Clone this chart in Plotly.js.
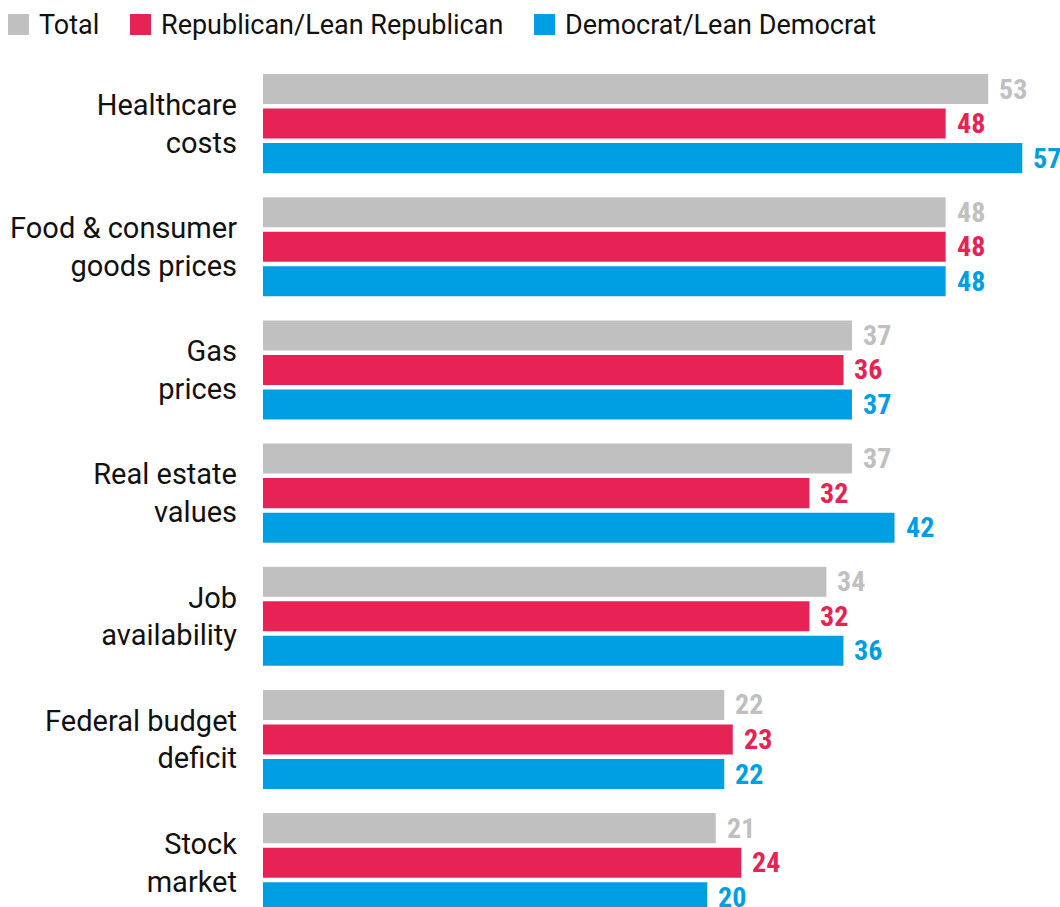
<!DOCTYPE html>
<html>
<head>
<meta charset="utf-8">
<script src="https://cdn.plot.ly/plotly-3.0.1.min.js"></script>
<style>
  html, body { margin: 0; padding: 0; background: #ffffff; }
  #chart { width: 1060px; height: 907px; }
</style>
</head>
<body>
<div id="chart"></div>
<script>
// ---- Data ----
var categories = [
  "Healthcare<br>costs",
  "Food & consumer<br>goods prices",
  "Gas<br>prices",
  "Real estate<br>values",
  "Job<br>availability",
  "Federal budget<br>deficit",
  "Stock<br>market"
];
var seriesNames = ["Total", "Republican/Lean Republican", "Democrat/Lean Democrat"];
var totalValues = [53, 48, 37, 37, 34, 22, 21];
var republicanValues = [48, 48, 36, 32, 32, 23, 24];
var democratValues = [57, 48, 37, 42, 36, 22, 20];
var seriesColors = ["#c0c0c0", "#e62354", "#009fe3"];

// ---- Layout constants (style) ----
var W = 1060, H = 907;
var M = { l: 263, r: 0, t: 62, b: 0 };
var BASE = -32.17;            // bars start at this axis value (truncated scale as in reference)
var XMAX = 61.43;
var BARGAP = 0.159, BARGROUPGAP = 0.13;
var LABEL_FONT = "Liberation Sans Narrow, Roboto Condensed, Arial Narrow, DejaVu Sans Condensed, Roboto, sans-serif";
var TEXT_FONT = "Roboto, Noto Sans, sans-serif";

var allValues = [totalValues, republicanValues, democratValues];

var traces = allValues.map(function (vals, i) {
  return {
    type: "bar",
    orientation: "h",
    name: seriesNames[i],
    y: categories,
    x: vals.map(function (v) { return v - BASE; }),
    base: BASE,
    marker: { color: seriesColors[i], line: { width: 0 } },
    hoverinfo: "skip",
    showlegend: false
  };
});

// value labels
var plotH = H - M.t - M.b;
var slotPx = (plotH / (6 + 0.36 + 0.5)) * (1 - BARGAP) / 3;
var annotations = [];
allValues.forEach(function (vals, i) {
  vals.forEach(function (v, j) {
    annotations.push({
      xref: "x", yref: "y",
      x: v, y: categories[j],
      xanchor: "left", yanchor: "middle",
      xshift: 9,
      yshift: (1 - i) * slotPx,
      text: "<b>" + v + "</b>",
      showarrow: false,
      font: { family: LABEL_FONT, size: 28, color: seriesColors[i] }
    });
  });
});

// custom legend (squares + text)
var plotW = W - M.l - M.r;
function px2paperX(px) { return (px - M.l) / plotW; }
function px2paperY(py) { return (H - M.b - py) / plotH; }
var legendSquareX = [8, 130, 534];
var shapes = [];
seriesNames.forEach(function (name, i) {
  shapes.push({
    type: "rect", xref: "paper", yref: "paper",
    x0: px2paperX(legendSquareX[i]), x1: px2paperX(legendSquareX[i] + 21),
    y0: px2paperY(35), y1: px2paperY(14),
    fillcolor: seriesColors[i], line: { width: 0 }
  });
  annotations.push({
    xref: "paper", yref: "paper",
    x: px2paperX(legendSquareX[i] + 29), y: px2paperY(24.5),
    xanchor: "left", yanchor: "middle",
    text: name, showarrow: false,
    font: { family: TEXT_FONT, size: 27, color: "#111111" }
  });
});

var layout = {
  width: W, height: H,
  margin: M,
  paper_bgcolor: "#ffffff",
  plot_bgcolor: "#ffffff",
  barmode: "group",
  bargap: BARGAP,
  bargroupgap: BARGROUPGAP,
  showlegend: false,
  xaxis: {
    range: [BASE, XMAX],
    showgrid: false, zeroline: false, showline: false,
    showticklabels: false, ticks: "", fixedrange: true
  },
  yaxis: {
    type: "category",
    categoryorder: "array",
    categoryarray: categories,
    range: [6.36, -0.5],
    showgrid: false, zeroline: false, showline: false,
    ticks: "",
    ticklabelstandoff: 25,
    tickfont: { family: TEXT_FONT, size: 29, color: "#111111" },
    fixedrange: true
  },
  annotations: annotations,
  shapes: shapes
};

Plotly.newPlot("chart", traces, layout, { displayModeBar: false, staticPlot: true });
</script>
</body>
</html>
